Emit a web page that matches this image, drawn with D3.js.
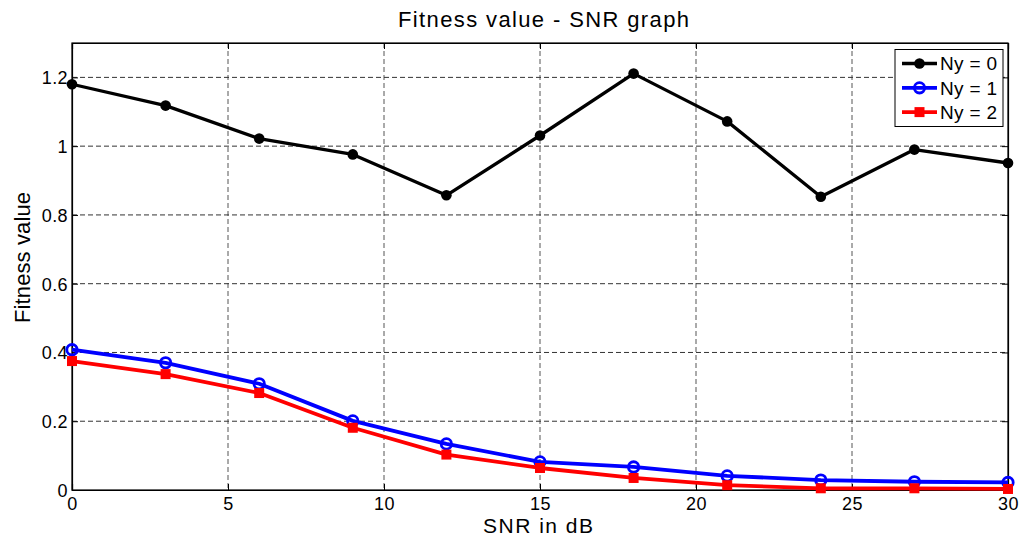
<!DOCTYPE html>
<html>
<head>
<meta charset="utf-8">
<script src="https://cdn.jsdelivr.net/npm/d3@7"></script>
<style>
  body { margin: 0; background: #fff; }
  svg { display: block; font-family: "Liberation Sans", Arial, sans-serif; }
</style>
</head>
<body>
<svg id="chart" width="1021" height="537"></svg>
<script>
// SNR sweep (dB)
const snr = [0, 3, 6, 9, 12, 15, 18, 21, 24, 27, 30];
// Fitness value per Ny setting
const ny0 = [1.180, 1.118, 1.022, 0.976, 0.857, 1.031, 1.211, 1.072, 0.853, 0.990, 0.951];
const ny1 = [0.408, 0.370, 0.309, 0.201, 0.134, 0.082, 0.067, 0.041, 0.029, 0.024, 0.022];
const ny2 = [0.375, 0.337, 0.282, 0.181, 0.103, 0.064, 0.035, 0.014, 0.005, 0.005, 0.003];
const seriesNames = ["Ny = 0", "Ny = 1", "Ny = 2"];
const xTicks = [0, 5, 10, 15, 20, 25, 30];
const yTicks = [0, 0.2, 0.4, 0.6, 0.8, 1, 1.2];

const svg = d3.select("#chart");
const pL = 72, pR = 1008, pT = 43, pB = 490;

const x = d3.scaleLinear().domain([0, 30]).range([pL, pR]);
const y = d3.scaleLinear().domain([0, 1.3]).range([pB, pT]);

// dashed grid
const grid = svg.append("g");
grid.selectAll(".gx").data(xTicks.filter(d => d > 0 && d < 30)).join("line")
  .attr("x1", d => x(d)).attr("x2", d => x(d))
  .attr("y1", pT).attr("y2", pB)
  .attr("stroke", "#555").attr("stroke-width", 1).attr("stroke-dasharray", "5,3");
grid.selectAll(".gy").data(yTicks.filter(d => d > 0)).join("line")
  .attr("x1", pL).attr("x2", pR)
  .attr("y1", d => y(d)).attr("y2", d => y(d))
  .attr("stroke", "#333").attr("stroke-width", 1).attr("stroke-dasharray", "5,3");

// axes with inward ticks
const fmt = d => String(+d.toFixed(1));
const xAxis = svg.append("g").attr("transform", `translate(0,${pB})`)
  .call(d3.axisBottom(x).tickValues(xTicks).tickSize(-6).tickFormat(fmt));
const xAxisTop = svg.append("g").attr("transform", `translate(0,${pT})`)
  .call(d3.axisTop(x).tickValues(xTicks).tickSize(-6).tickFormat(""));
const yAxis = svg.append("g").attr("transform", `translate(${pL},0)`)
  .call(d3.axisLeft(y).tickValues(yTicks).tickSize(-6).tickPadding(4).tickFormat(fmt));
const yAxisRight = svg.append("g").attr("transform", `translate(${pR},0)`)
  .call(d3.axisRight(y).tickValues(yTicks).tickSize(-6).tickFormat(""));
[xAxis, xAxisTop, yAxis, yAxisRight].forEach(g => {
  g.select(".domain").attr("stroke", "#000").attr("stroke-width", 1.2);
  g.selectAll(".tick line").attr("stroke", "#000").attr("stroke-width", 1);
  g.selectAll("text").attr("font-size", 18).attr("fill", "#000")
    .attr("letter-spacing", 0.4)
    .attr("font-family", "'Liberation Sans', Arial, sans-serif");
});
xAxis.selectAll(".tick text").attr("y", 19.5).attr("dy", 0);
yAxis.selectAll(".tick text").attr("dy", "0.36em");

// plot frame
svg.append("rect").attr("x", pL).attr("y", pT)
  .attr("width", pR - pL).attr("height", pB - pT)
  .attr("fill", "none").attr("stroke", "#000").attr("stroke-width", 1.2);

// series
const series = [
  { name: seriesNames[0], values: ny0, color: "#000000", marker: "dot" },
  { name: seriesNames[1], values: ny1, color: "#0000ff", marker: "circle" },
  { name: seriesNames[2], values: ny2, color: "#ff0000", marker: "square" }
];
const line = d3.line().x((d, i) => x(snr[i])).y(d => y(d));

function drawMarker(g, type, color, cx, cy) {
  if (type === "dot") {
    g.append("circle").attr("cx", cx).attr("cy", cy).attr("r", 5.3).attr("fill", color);
  } else if (type === "circle") {
    g.append("circle").attr("cx", cx).attr("cy", cy).attr("r", 5.2)
      .attr("fill", "none").attr("stroke", color).attr("stroke-width", 2.8);
  } else {
    g.append("rect").attr("x", cx - 5).attr("y", cy - 5).attr("width", 10).attr("height", 10)
      .attr("fill", color);
  }
}

series.forEach(s => {
  const g = svg.append("g");
  g.append("path").datum(s.values).attr("d", line)
    .attr("fill", "none").attr("stroke", s.color)
    .attr("stroke-width", s.marker === "dot" ? 3.3 : 3.8).attr("stroke-linejoin", "round");
  s.values.forEach((v, i) => drawMarker(g, s.marker, s.color, x(snr[i]), y(v)));
});

// legend
const lg = svg.append("g");
lg.append("rect").attr("x", 895).attr("y", 49.5).attr("width", 108).attr("height", 77)
  .attr("fill", "#fff").attr("stroke", "#000").attr("stroke-width", 1);
series.forEach((s, i) => {
  const yy = 63.5 + i * 24.3;
  lg.append("line").attr("x1", 902).attr("x2", 937).attr("y1", yy).attr("y2", yy)
    .attr("stroke", s.color).attr("stroke-width", s.marker === "dot" ? 3.3 : 3.8);
  drawMarker(lg, s.marker, s.color, 919.5, yy);
  lg.append("text").attr("x", 940).attr("y", yy).attr("dy", "0.36em")
    .attr("font-size", 19).attr("fill", "#000")
    .attr("textLength", 57).attr("lengthAdjust", "spacing").text(s.name);
});

// titles
svg.append("text").attr("x", 398).attr("y", 27)
  .attr("font-size", 22).attr("fill", "#000")
  .attr("textLength", 291).attr("lengthAdjust", "spacing").text("Fitness value - SNR graph");
svg.append("text").attr("x", 483).attr("y", 533)
  .attr("font-size", 21).attr("fill", "#000")
  .attr("textLength", 110).attr("lengthAdjust", "spacing").text("SNR in dB");
svg.append("text").attr("transform", `translate(30,323) rotate(-90)`)
  .attr("font-size", 22).attr("fill", "#000")
  .attr("textLength", 131).attr("lengthAdjust", "spacing").text("Fitness value");
</script>
</body>
</html>
